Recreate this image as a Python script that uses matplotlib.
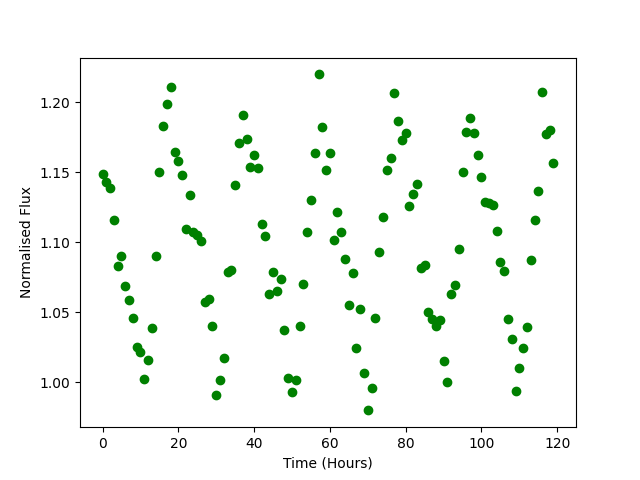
import matplotlib
matplotlib.use('Agg')
import matplotlib.pyplot as plt

# Time in hours, one reading per hour
time_hours = list(range(120))

# Normalised flux
flux = [
    1.1486, 1.1429, 1.1386, 1.1157, 1.0833, 1.0900, 1.0686, 1.0586, 1.0457, 1.0250,
    1.0214, 1.0021, 1.0157, 1.0386, 1.0900, 1.1500, 1.1829, 1.1986, 1.2107, 1.1643,
    1.1579, 1.1479, 1.1093, 1.1336, 1.1071, 1.1050, 1.1007, 1.0571, 1.0593, 1.0400,
    0.9907, 1.0014, 1.0171, 1.0786, 1.0800, 1.1407, 1.1707, 1.1907, 1.1736, 1.1536,
    1.1621, 1.1529, 1.1129, 1.1043, 1.0629, 1.0786, 1.0650, 1.0736, 1.0371, 1.0029,
    0.9929, 1.0014, 1.0400, 1.0700, 1.1071, 1.1300, 1.1636, 1.2200, 1.1821, 1.1514,
    1.1636, 1.1014, 1.1214, 1.1071, 1.0879, 1.0550, 1.0779, 1.0243, 1.0521, 1.0064,
    0.9800, 0.9957, 1.0457, 1.0929, 1.1179, 1.1514, 1.1600, 1.2064, 1.1864, 1.1729,
    1.1779, 1.1257, 1.1343, 1.1414, 1.0814, 1.0836, 1.0500, 1.0450, 1.0400, 1.0443,
    1.0150, 1.0000, 1.0629, 1.0693, 1.0950, 1.1500, 1.1786, 1.1886, 1.1779, 1.1621,
    1.1464, 1.1286, 1.1279, 1.1264, 1.1079, 1.0857, 1.0793, 1.0450, 1.0307, 0.9936,
    1.0100, 1.0243, 1.0393, 1.0871, 1.1157, 1.1364, 1.2071, 1.1771, 1.1800, 1.1564,
]

fig = plt.figure(figsize=(6.4, 4.8), dpi=100)
plt.plot(time_hours, flux, 'o', color='green')
plt.xlabel('Time (Hours)')
plt.ylabel('Normalised Flux')
plt.savefig('out.png')
